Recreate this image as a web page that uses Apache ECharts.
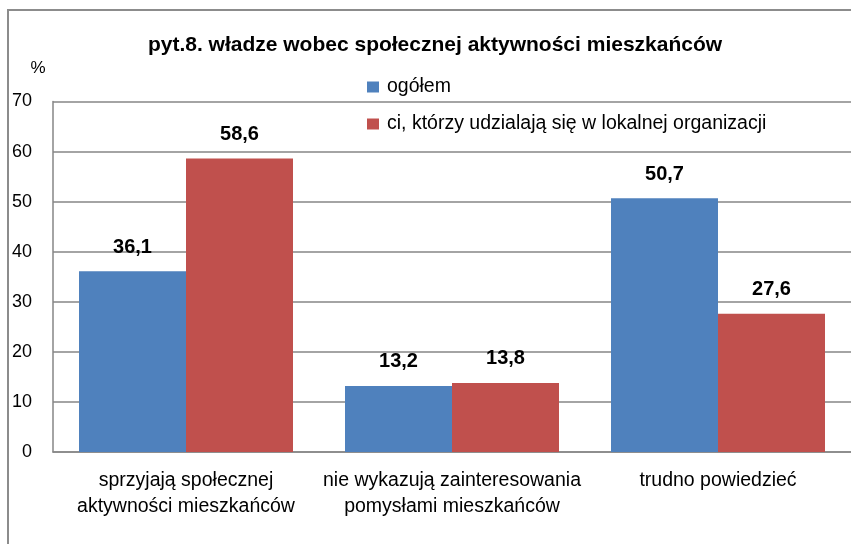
<!DOCTYPE html>
<html><head><meta charset="utf-8">
<script src="https://cdn.jsdelivr.net/npm/echarts@6/dist/echarts.min.js"></script>
<style>html,body{margin:0;padding:0;background:#fff}#c{width:851px;height:544px}</style>
</head><body><div id="c"></div>
<script>
const titleText = 'pyt.8. władze wobec społecznej aktywności mieszkańców';
const unitLabel = '%';
const categories = ['sprzyjają społecznej\naktywności mieszkańców', 'nie wykazują zainteresowania\npomysłami mieszkańców', 'trudno powiedzieć'];
const seriesNames = ['ogółem', 'ci, którzy udzialają się w lokalnej organizacji'];
const valuesAll = [36.1, 13.2, 50.7];
const valuesOrg = [58.6, 13.8, 27.6];
const yTicks = [0, 10, 20, 30, 40, 50, 60, 70];

const FONT = '"Liberation Sans", Arial, sans-serif';
const chart = echarts.init(document.getElementById('c'));
const fmt = p => p.value.toFixed(1).replace('.', ',');
const labelCfg = {show: true, position: 'top', distance: 14, formatter: fmt, fontFamily: FONT, fontSize: 20, fontWeight: 'bold', color: '#000'};
chart.setOption({
  animation: false,
  title: {text: titleText, left: 435, top: 35, padding: 0, textAlign: 'center',
    textStyle: {fontFamily: FONT, fontSize: 21, fontWeight: 'bold', color: '#000'}},
  graphic: [
    {type: 'rect', shape: {x: 8, y: 10, width: 900, height: 600}, style: {fill: 'none', stroke: '#8c8c8c', lineWidth: 2}, z: -10},
    {type: 'text', x: 38, y: 68, style: {text: unitLabel, fontFamily: FONT, fontSize: 17, fill: '#000', align: 'center', verticalAlign: 'middle'}}
  ],
  legend: {orient: 'vertical', left: 367, top: 77, itemWidth: 12, itemHeight: 11, itemGap: 17, padding: 0,
    icon: 'rect', data: seriesNames,
    textStyle: {fontFamily: FONT, fontSize: 19.5, color: '#000', padding: [0, 0, 0, 3]}},
  grid: {left: 53, right: -7, top: 101.5, bottom: 92},
  xAxis: {type: 'category', data: categories,
    axisLine: {lineStyle: {color: '#868686', width: 1.5}}, axisTick: {show: false},
    axisLabel: {interval: 0, margin: 16, fontFamily: FONT, fontSize: 19.5, lineHeight: 26, color: '#000'}},
  yAxis: {type: 'value', min: yTicks[0], max: yTicks[yTicks.length - 1], interval: 10,
    axisLine: {show: true, lineStyle: {color: '#868686', width: 1.5}}, axisTick: {show: false},
    splitLine: {lineStyle: {color: '#868686', width: 1.5}},
    axisLabel: {margin: 21, fontFamily: FONT, fontSize: 18, color: '#000'}},
  series: [
    {name: seriesNames[0], type: 'bar', data: valuesAll, barWidth: 107, barGap: '0%', itemStyle: {color: '#4F81BD'}, label: labelCfg},
    {name: seriesNames[1], type: 'bar', data: valuesOrg, barWidth: 107, barGap: '0%', itemStyle: {color: '#C0504D'}, label: labelCfg}
  ]
});
</script></body></html>
